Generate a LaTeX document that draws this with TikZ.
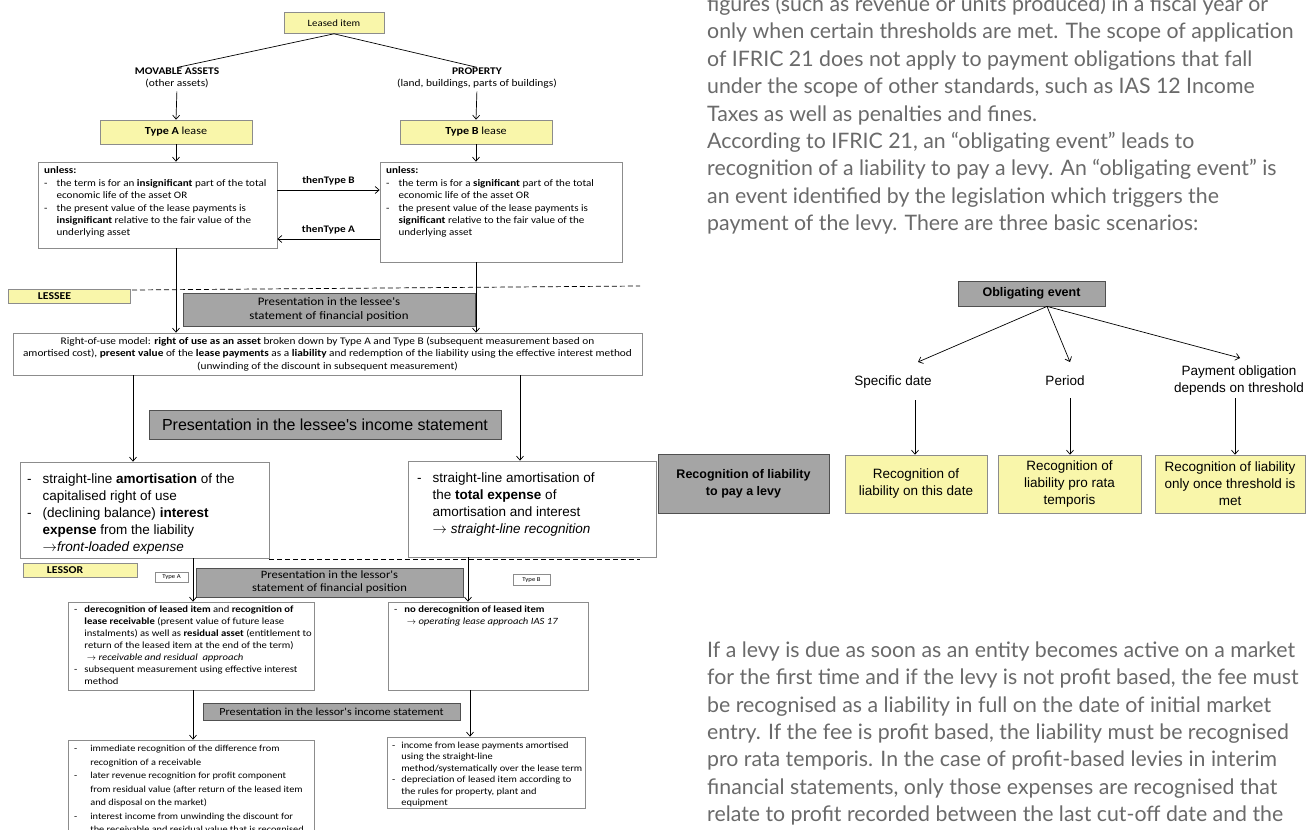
\documentclass[tikz,border=0pt]{standalone}
\usepackage{fontspec}
\usetikzlibrary{arrows.meta,calc}
\newfontfamily\fcal{Carlito}[FakeStretch=1.12]
\newfontfamily\fari{Liberation Sans}
\newfontfamily\fpara{Lato}
\definecolor{lyel}{HTML}{F9F6AA}
\definecolor{bgr}{HTML}{8C8C8C}
\definecolor{gfill}{HTML}{A5A5A5}
\definecolor{gline}{HTML}{505050}
\definecolor{ptext}{HTML}{6A6A6A}
\begin{document}
\begin{tikzpicture}[x=1pt,y=-1pt,
  ybox/.style={draw=bgr, fill=lyel, line width=0.6pt, inner sep=0pt, align=center},
  gbox/.style={draw=gline, fill=gfill, line width=0.8pt, inner sep=0pt, align=center},
  wbox/.style={draw=bgr, fill=white, line width=0.7pt, inner sep=0pt},
  arr/.style={-{Straight Barb[length=4pt,width=7pt]}, line width=0.7pt},
  txt/.style={inner sep=0pt, align=left},
  small/.style={font=\fcal\fontsize{9.9}{12.4}\selectfont},
  para/.style={anchor=base west, inner sep=0pt, font=\fpara\fontsize{21.3}{24}\selectfont, text=ptext},
  rfont/.style={font=\fari\fontsize{13.5}{17}\selectfont}
]
\useasboundingbox (0,0) rectangle (1307,830);
\clip (0,0) rectangle (1307,830);
\fill[white] (0,0) rectangle (1307,830);

% ---------------- top of the lease chart
\node[ybox, minimum width=100pt, minimum height=21pt, font=\fcal\fontsize{9.6}{11}\selectfont] (leased) at (334,23) {Leased item};
\node[txt, align=center, font=\fcal\fontsize{10.2}{12.5}\selectfont] (mov) at (177,78) {\textbf{MOVABLE ASSETS}\\(other assets)};
\node[txt, align=center, font=\fcal\fontsize{10.2}{12.5}\selectfont] (prop) at (477,78) {\textbf{PROPERTY}\\(land, buildings, parts of buildings)};
\draw[line width=0.7pt] (leased.south) -- (mov.north);
\draw[line width=0.7pt] (leased.south) -- (prop.north);

\node[ybox, minimum width=152pt, minimum height=24pt, font=\fcal\fontsize{10.8}{12}\selectfont] (ta) at (176,132) {\textbf{Type A} lease};
\node[ybox, minimum width=152pt, minimum height=24pt, font=\fcal\fontsize{10.8}{12}\selectfont] (tb) at (476,132) {\textbf{Type B} lease};
\draw[arr, shorten <=3pt] (mov.south) -- (ta.north);
\draw[arr, shorten <=3pt] (prop.south) -- (tb.north);

\node[wbox, minimum width=239pt, minimum height=86pt] (ul) at (157.5,205) {};
\node[wbox, minimum width=242pt, minimum height=100pt] (ur) at (501,212) {};
\draw[arr] (ta.south) -- (ta.south |- ul.north);
\draw[arr] (tb.south) -- (tb.south |- ur.north);

\node[txt, small, anchor=north west] (ult) at (44,165) {\begin{tabular}{@{}l@{\hspace{9pt}}l@{}}\multicolumn{2}{@{}l}{\textbf{unless:}}\\
- & the term is for an \textbf{insignificant} part of the total\\
 & economic life of the asset OR\\
- & the present value of the lease payments is\\
 & \textbf{insignificant} relative to the fair value of the\\
 & underlying asset\end{tabular}};
\node[txt, small, anchor=north west] (urt) at (386,165) {\begin{tabular}{@{}l@{\hspace{9pt}}l@{}}\multicolumn{2}{@{}l}{\textbf{unless:}}\\
- & the term is for a \textbf{significant} part of the total\\
 & economic life of the asset OR\\
- & the present value of the lease payments is\\
 & \textbf{significant} relative to the fair value of the\\
 & underlying asset\end{tabular}};

\coordinate (yb) at (0,190);
\coordinate (ya) at (0,239);
\draw[arr] (ul.east |- yb) -- node[above=1pt, font=\fcal\fontsize{10}{11}\selectfont] (lblB) {\textbf{thenType B}} (ur.west |- yb);
\draw[arr] (ur.west |- ya) -- node[above=1pt, font=\fcal\fontsize{10}{11}\selectfont] (lblA) {\textbf{thenType A}} (ul.east |- ya);

% ---------------- lessee
\node[wbox, minimum width=629pt, minimum height=42pt, align=center, font=\fcal\fontsize{10.1}{12.5}\selectfont] (rou) at (327.5,354)
 {Right-of-use model: \textbf{right of use as an asset} broken down by Type A and Type B (subsequent measurement based on\\
 amortised cost), \textbf{present value} of the \textbf{lease payments} as a \textbf{liability} and redemption of the liability using the effective interest method\\
 (unwinding of the discount in subsequent measurement)};
\draw[arr] (ta.south |- ul.south) -- (ta.south |- rou.north);
\draw[arr] (tb.south |- ur.south) -- (tb.south |- rou.north);

\coordinate (d1) at (132,290);
\coordinate (d2) at (640,286);
\draw[line width=0.7pt, dash pattern=on 5pt off 3pt] (d1) -- (d2);
\node[ybox, minimum width=122pt, minimum height=14pt, font=\fcal\fontsize{10.5}{11}\selectfont] (lessee) at (69,296) {\makebox[122pt][l]{\hspace{30pt}\textbf{LESSEE}}};
\node[gbox, minimum width=292pt, minimum height=33pt, font=\fcal\fontsize{11.5}{13.5}\selectfont] (gs1) at (329,309.5) {Presentation in the lessee's\\statement of financial position};

\node[gbox, minimum width=352pt, minimum height=29pt, font=\fari\fontsize{16}{18}\selectfont] (gi1) at (325,425) {Presentation in the lessee's income statement};
\node[wbox, minimum width=249pt, minimum height=96pt] (ll) at (144.5,510) {};
\node[wbox, minimum width=248pt, minimum height=96pt] (lr) at (532,509) {};
\coordinate (c1) at (133,0);
\coordinate (c2) at (520,0);
\draw[arr] (c1 |- rou.south) -- (c1 |- ll.north);
\draw[arr] (c2 |- rou.south) -- (c2 |- lr.north);
\node[txt, anchor=north west, font=\fari\fontsize{13.5}{17}\selectfont] (llt) at (27,471) {\begin{tabular}{@{}l@{\hspace{11pt}}l@{}}
- & straight-line \textbf{amortisation} of the\\
 & capitalised right of use\\
- & (declining balance) \textbf{interest}\\
 & \textbf{expense} from the liability\\
 & $\rightarrow$\textit{front-loaded expense}\end{tabular}};
\node[txt, anchor=north west, font=\fari\fontsize{13.5}{17}\selectfont] (lrt) at (417,470) {\begin{tabular}{@{}l@{\hspace{11pt}}l@{}}
- & straight-line amortisation of\\
 & the \textbf{total expense} of\\
 & amortisation and interest\\
 & $\rightarrow$ \textit{straight-line recognition}\end{tabular}};

% ---------------- lessor
\coordinate (d3) at (269,559);
\coordinate (d4) at (640,559);
\draw[line width=0.7pt, dash pattern=on 5pt off 3pt] (d3) -- (d4);
\node[ybox, minimum width=114pt, minimum height=14pt, font=\fcal\fontsize{10.5}{11}\selectfont] (lessor) at (80,570) {\makebox[114pt][l]{\hspace{24pt}\textbf{LESSOR}}};
\node[draw=bgr, fill=white, line width=0.5pt, inner sep=0pt, minimum width=33pt, minimum height=10pt, font=\fcal\fontsize{6}{6}\selectfont] (tya) at (171.5,577) {Type A};
\node[draw=bgr, fill=white, line width=0.5pt, inner sep=0pt, minimum width=37pt, minimum height=11pt, font=\fcal\fontsize{6}{6}\selectfont] (tyb) at (531.5,580) {Type B};
\node[gbox, minimum width=267pt, minimum height=29pt, font=\fcal\fontsize{11.2}{13}\selectfont] (gs2) at (329.5,582.5) {Presentation in the lessor's\\statement of financial position};

\node[wbox, minimum width=246pt, minimum height=88pt] (ol) at (191,646) {};
\node[wbox, minimum width=200pt, minimum height=88pt] (or) at (488,646) {};
\coordinate (c3) at (193,0);
\coordinate (c4) at (468,0);
\coordinate (c5) at (470,0);
\draw[arr] (c3 |- ll.south) -- (c3 |- ol.north);
\draw[arr] (c4 |- lr.south) -- (c4 |- or.north);
\node[txt, anchor=north west, font=\fcal\fontsize{9.5}{12}\selectfont] (olt) at (74,604) {\begin{tabular}{@{}l@{\hspace{7pt}}l@{}}
- & \textbf{derecognition of leased item} and \textbf{recognition of}\\
 & \textbf{lease receivable} (present value of future lease\\
 & instalments) as well as \textbf{residual asset} (entitlement to\\
 & return of the leased item at the end of the term)\\
 & \ $\rightarrow$ \textit{receivable and residual\ \ approach}\\
- & subsequent measurement using effective interest\\
 & method\end{tabular}};
\node[txt, anchor=north west, font=\fcal\fontsize{9.5}{12}\selectfont] (ort) at (394,604) {\begin{tabular}{@{}l@{\hspace{7pt}}l@{}}
- & \textbf{no derecognition of leased item}\\
 & \ $\rightarrow$ \textit{operating lease approach IAS 17}\end{tabular}};

\node[gbox, minimum width=257pt, minimum height=17pt, font=\fcal\fontsize{10.8}{12}\selectfont] (gi2) at (331.5,711.5) {Presentation in the lessor's income statement};
\node[wbox, minimum width=246pt, minimum height=98pt] (ol2) at (191,789) {};
\node[wbox, minimum width=198pt, minimum height=71pt] (or2) at (486,772.5) {};
\draw[arr] (c3 |- ol.south) -- (c3 |- ol2.north);
\draw[arr] (c5 |- or.south) -- (c5 |- or2.north);
\node[txt, anchor=north west, font=\fcal\fontsize{9.2}{13.5}\selectfont] (ol2t) at (74,742) {\begin{tabular}{@{}l@{\hspace{13pt}}l@{}}
- & immediate recognition of the difference from\\
 & recognition of a receivable\\
- & later revenue recognition for profit component\\
 & from residual value (after return of the leased item\\
 & and disposal on the market)\\
- & interest income from unwinding the discount for\\
 & the receivable and residual value that is recognised\\
 & in profit or loss over the lease term\end{tabular}};
\node[txt, anchor=north west, font=\fcal\fontsize{9.3}{11.5}\selectfont] (or2t) at (392,740) {\begin{tabular}{@{}l@{\hspace{6pt}}l@{}}
- & income from lease payments amortised\\
 & using the straight-line\\
 & method/systematically over the lease term\\
- & depreciation of leased item according to\\
 & the rules for property, plant and\\
 & equipment\end{tabular}};

% ---------------- right side text
\node[para] (p0) at (707,11) {figures (such as revenue or units produced) in a fiscal year or};
\node[para] (p1) at (707,38.9) {only when certain thresholds are met. The scope of application};
\node[para] (p2) at (707,66.3) {of IFRIC 21 does not apply to payment obligations that fall};
\node[para] (p3) at (707,93.7) {under the scope of other standards, such as IAS 12 Income};
\node[para] (p4) at (707,121.1) {Taxes as well as penalties and fines.};
\node[para] (p5) at (707,148.5) {According to IFRIC 21, an “obligating event” leads to};
\node[para] (p6) at (707,175.9) {recognition of a liability to pay a levy. An “obligating event” is};
\node[para] (p7) at (707,203.3) {an event identified by the legislation which triggers the};
\node[para] (p8) at (707,230.7) {payment of the levy. There are three basic scenarios:};

\node[para] (q1) at (707,657.5) {If a levy is due as soon as an entity becomes active on a market};
\node[para] (q2) at (707,684.8) {for the first time and if the levy is not profit based, the fee must};
\node[para] (q3) at (707,712.1) {be recognised as a liability in full on the date of initial market};
\node[para] (q4) at (707,739.4) {entry. If the fee is profit based, the liability must be recognised};
\node[para] (q5) at (707,766.7) {pro rata temporis. In the case of profit-based levies in interim};
\node[para] (q6) at (707,794) {financial statements, only those expenses are recognised that};
\node[para] (q7) at (707,821.3) {relate to profit recorded between the last cut-off date and the};

% ---------------- obligating event chart
\node[gbox, minimum width=147pt, minimum height=25pt, font=\fari\bfseries\fontsize{12.5}{14}\selectfont] (oe) at (1031.5,293.5) {Obligating event};
\node[txt, align=center, rfont] (sd) at (893,382) {Specific date};
\node[txt, align=center, rfont] (per) at (1065,381) {Period};
\node[txt, align=center, rfont] (pay) at (1239,381) {Payment obligation\\depends on threshold};
\coordinate (ap) at ([xshift=15.5pt]oe.south);
\coordinate (e1) at (918,362);
\coordinate (e2) at (1070,362);
\coordinate (e3) at (1240,358);
\draw[arr] (ap) -- (e1);
\draw[arr] (ap) -- (e2);
\draw[arr] (ap) -- (e3);

\node[ybox, minimum width=142pt, minimum height=58pt, rfont] (b1) at (916,484) {Recognition of\\liability on this date};
\node[ybox, minimum width=143pt, minimum height=58pt, rfont] (b2) at (1069.5,484) {Recognition of\\liability pro rata\\temporis};
\node[ybox, minimum width=150pt, minimum height=58pt, rfont] (b3) at (1230,484) {Recognition of liability\\only once threshold is\\met};
\node[gbox, minimum width=171pt, minimum height=59pt, font=\fari\bfseries\fontsize{12.5}{17}\selectfont] (levy) at (743.5,483.5) {Recognition of liability\\to pay a levy};
\coordinate (v1) at (915,400);
\coordinate (v2) at (1070,398);
\coordinate (v3) at (1235,398);
\draw[arr] (v1) -- (v1 |- b1.north);
\draw[arr] (v2) -- (v2 |- b2.north);
\draw[arr] (v3) -- (v3 |- b3.north);
\end{tikzpicture}
\end{document}
